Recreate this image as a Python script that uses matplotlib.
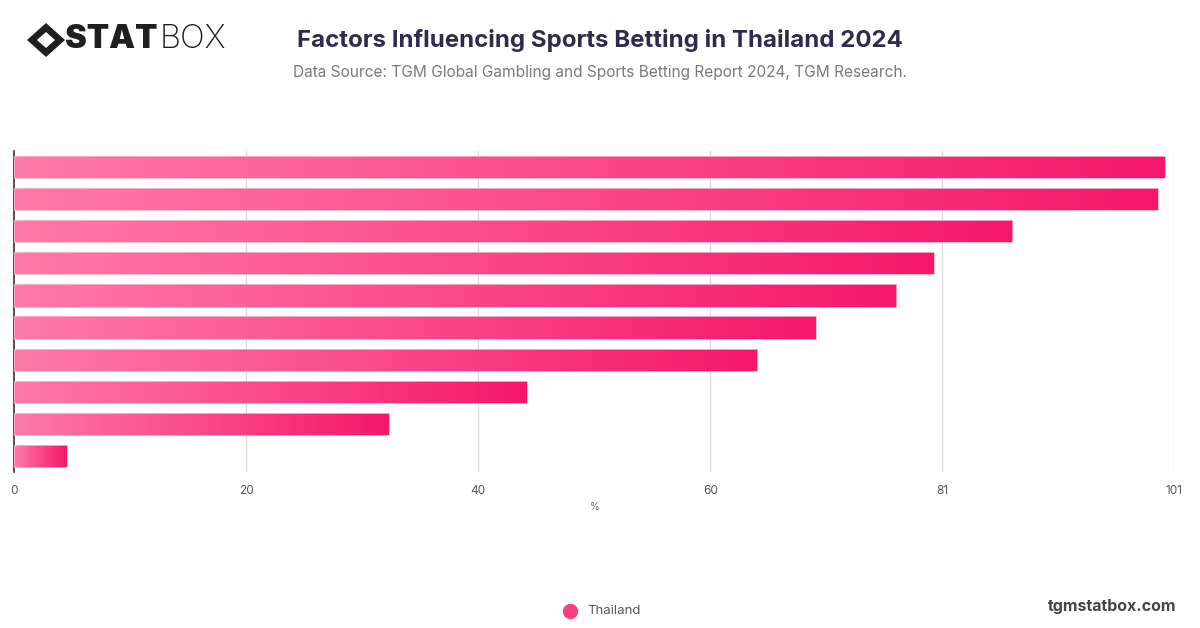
import matplotlib
matplotlib.use("Agg")
import matplotlib.pyplot as plt
import numpy as np
from matplotlib.colors import LinearSegmentedColormap
from matplotlib.patches import Polygon

# data (percent, top to bottom)
values = [100.2, 99.6, 86.9, 80.1, 76.8, 69.8, 64.7, 44.6, 32.6, 4.6]
series_name = "Thailand"
tick_pos = [0, 20.2, 40.4, 60.6, 80.8, 101]
tick_labels = ["0", "20", "40", "60", "81", "101"]
x_max = 101

title = "Factors Influencing Sports Betting in Thailand 2024"
subtitle = "Data Source: TGM Global Gambling and Sports Betting Report 2024, TGM Research."

fonts = ["Inter", "DejaVu Sans"]
plt.rcParams["font.family"] = fonts

cmap = LinearSegmentedColormap.from_list("pink", ["#ff7aa8", "#f5176b"])

fig = plt.figure(figsize=(12, 6.28), dpi=100)
ax = fig.add_axes([14.3 / 1200, 1 - 472 / 628, (1174.3 - 14.3) / 1200, 321 / 628])

grad = np.linspace(0, 1, 512).reshape(1, -1)
bar_h = 0.69
bars = ax.barh(range(len(values)), values, height=bar_h, color="none",
               edgecolor="#ffb3cd", linewidth=0.6, zorder=3)
for i, (v, b) in enumerate(zip(values, bars)):
    im = ax.imshow(grad, extent=[0, v, i - 0.5, i + 0.5], aspect="auto",
                   cmap=cmap, zorder=2, interpolation="bilinear")
    im.set_clip_path(b)

ax.set_xlim(0, x_max)
ax.set_ylim(len(values) - 0.5, -0.5)
ax.set_xticks(tick_pos)
ax.set_xticklabels(tick_labels)
ax.set_yticks([])
ax.tick_params(axis="x", length=0, pad=9, labelsize=8.5, labelcolor="#555555")
ax.grid(axis="x", color="#dcdcdc", linewidth=0.9, zorder=0)
ax.set_axisbelow(True)
for s in ["top", "right", "bottom"]:
    ax.spines[s].set_visible(False)
ax.spines["left"].set_color("#333333")
ax.spines["left"].set_linewidth(1.2)
ax.spines["left"].set_zorder(1)
ax.set_xlabel("%", fontsize=7, color="#666666", labelpad=4)

# titles
fig.text(0.5, 1 - 40 / 628, title, ha="center", va="center", fontsize=17.3,
         fontweight="bold", color="#2e2c4d")
fig.text(0.5, 1 - 72 / 628, subtitle, ha="center", va="center", fontsize=11.1,
         color="#7a7a7a")

# logo
lx, ly = 46 / 1200, 1 - 40 / 628
fig.patches.append(Polygon([(lx - 19 / 1200, ly), (lx, ly + 17 / 628), (lx + 19 / 1200, ly),
                            (lx, ly - 17 / 628)], closed=True, transform=fig.transFigure,
                           facecolor="#1f1f1f", edgecolor="none"))
fig.patches.append(Polygon([(lx - 9 / 1200, ly), (lx, ly + 8 / 628), (lx + 9 / 1200, ly),
                            (lx, ly - 8 / 628)], closed=True, transform=fig.transFigure,
                           facecolor="white", edgecolor="none"))
fig.text(65 / 1200, ly, "STAT", ha="left", va="center", fontsize=23.5,
         fontweight="black", color="#1f1f1f")
fig.text(160 / 1200, ly, "BOX", ha="left", va="center", fontsize=23.5,
         fontweight="light", color="#1f1f1f")

# legend
fig.add_artist(plt.Line2D([570 / 1200], [1 - 611 / 628], marker="o", markersize=10,
                          color="#f7417f", transform=fig.transFigure))
fig.text(587 / 1200, 1 - 611 / 628, series_name, ha="left", va="center", fontsize=9.5,
         color="#555555")

fig.text(1176 / 1200, 1 - 606 / 628, "tgmstatbox.com", ha="right", va="center",
         fontsize=11.5, fontweight="bold", color="#444444")

fig.savefig("out.png", dpi=100, facecolor="white")
